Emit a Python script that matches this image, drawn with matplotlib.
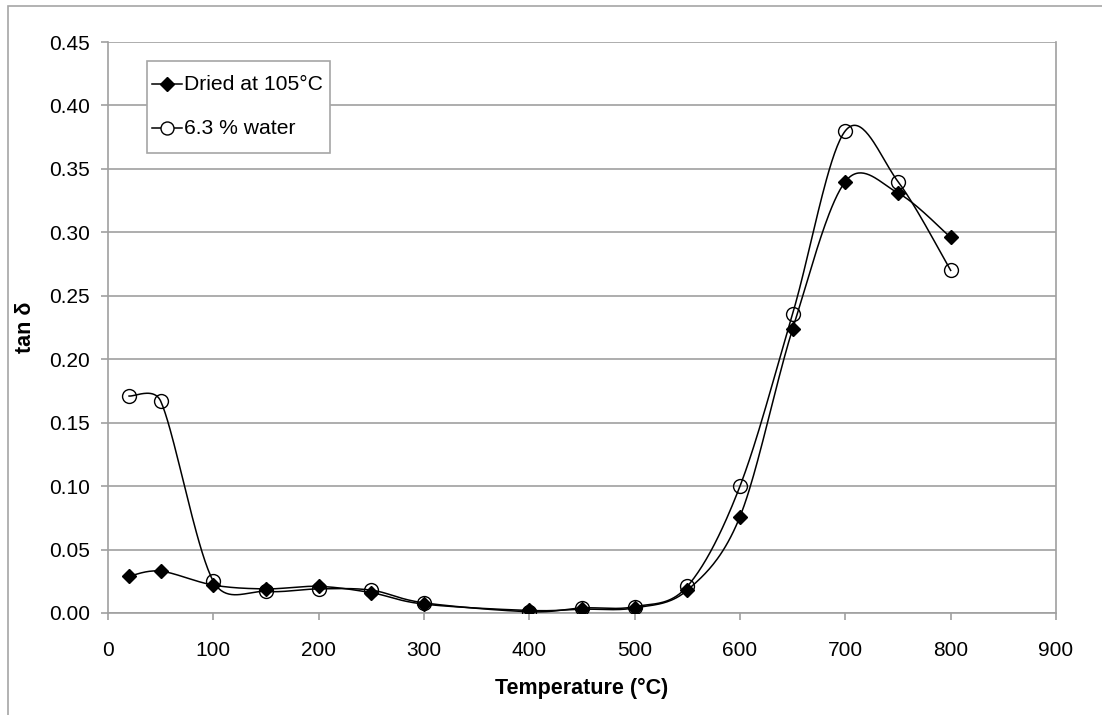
import numpy as np
import matplotlib
matplotlib.use('Agg')
import matplotlib.pyplot as plt
from matplotlib.patches import Rectangle

temp = [20, 50, 100, 150, 200, 250, 300, 400, 450, 500, 550, 600, 650, 700, 750, 800]
dried = [0.029, 0.033, 0.022, 0.019, 0.021, 0.016, 0.007, 0.002, 0.003, 0.004,
         0.018, 0.076, 0.224, 0.340, 0.331, 0.296]
water = [0.171, 0.167, 0.025, 0.017, 0.019, 0.018, 0.008, 0.001, 0.004, 0.005,
         0.021, 0.100, 0.236, 0.380, 0.340, 0.270]

# pixel scale of the plot area, so the smoothing behaves like on screen
XS = 948 / 900.0
YS = 571 / 0.45


def smooth(x, y, n=40):
    # Excel-style smoothed line: Bezier segments, tangent 1/6, clipped on short segments
    p = np.column_stack([np.asarray(x, float) * XS, np.asarray(y, float) * YS])
    m = len(p)
    t = np.linspace(0, 1, n)
    out = []
    for i in range(m - 1):
        p0 = p[max(i - 1, 0)]
        p1, p2 = p[i], p[i + 1]
        p3 = p[min(i + 2, m - 1)]
        d12 = np.hypot(*(p2 - p1))
        d02 = np.hypot(*(p2 - p0))
        d13 = np.hypot(*(p3 - p1))
        f0 = 1 / 6.0 if d02 / 6 < d12 / 2 else d12 / d02 / 2
        f3 = 1 / 6.0 if d13 / 6 < d12 / 2 else d12 / d13 / 2
        c1 = p1 + (p2 - p0) * f0
        c2 = p2 - (p3 - p1) * f3
        seg = ((1 - t) ** 3)[:, None] * p1 + (3 * (1 - t) ** 2 * t)[:, None] * c1 \
            + (3 * (1 - t) * t ** 2)[:, None] * c2 + (t ** 3)[:, None] * p2
        out.append(seg)
    out = np.vstack(out)
    return out[:, 0] / XS, out[:, 1] / YS


plt.rcParams['font.family'] = ['Liberation Sans', 'DejaVu Sans']
plt.rcParams['font.size'] = 15

fig = plt.figure(figsize=(11.02, 7.15), dpi=100)
ax = fig.add_axes([108 / 1102, 1 - 613 / 715, (1056 - 108) / 1102, (613 - 42) / 715])

# outer chart frame
fig.patches.append(Rectangle((8 / 1102, -0.1), 1.2, 1 - 6 / 715 + 0.1,
                             transform=fig.transFigure, fill=False,
                             edgecolor='#a6a6a6', lw=1.2))

grid = '#a0a0a0'
sx, sy = smooth(temp, dried)
ax.plot(sx, sy, color='black', lw=1.1, zorder=3)
sx, sy = smooth(temp, water)
ax.plot(sx, sy, color='black', lw=1.1, zorder=3)
ax.plot(temp, dried, ls='none', marker='D', ms=7.5, color='black', zorder=4)
ax.plot(temp, water, ls='none', marker='o', ms=10, mfc='none', mec='black',
        mew=1.0, zorder=5)

ax.set_xlim(0, 900)
ax.set_ylim(0, 0.45)
ax.set_xticks(np.arange(0, 901, 100))
ax.set_yticks(np.arange(0, 0.451, 0.05))
ax.set_yticklabels(['%.2f' % v for v in np.arange(0, 0.451, 0.05)])
ax.yaxis.grid(True, color=grid, lw=1.2)
ax.set_axisbelow(True)
for s in ax.spines.values():
    s.set_color(grid)
    s.set_linewidth(1.2)
ax.spines['top'].set_visible(False)
ax.tick_params(axis='both', color=grid, length=5, width=1.2, labelsize=15)
ax.tick_params(axis='x', pad=15)
ax.tick_params(axis='y', pad=8)

ax.set_xlabel('Temperature (°C)', fontweight='bold', fontsize=15.5, labelpad=13)
ax.set_ylabel('tan δ', fontweight='bold', fontsize=15.5, labelpad=8)
ax.yaxis.set_label_coords(-72 / 948, 0.5)

# legend
lx0, ly0 = 147 / 1102, 1 - 153 / 715
fig.patches.append(Rectangle((lx0, ly0), (330 - 147) / 1102, (153 - 61) / 715,
                             transform=fig.transFigure, facecolor='white',
                             edgecolor='#a6a6a6', lw=1.2, zorder=10))
items = [('Dried at 105°C', 'D', 'black', 8.5, 84), ('6.3 % water', 'o', 'white', 11, 128)]
for label, mk, fc, ms, ypx in items:
    yy = 1 - ypx / 715
    fig.add_artist(plt.Line2D([152 / 1102, 182 / 1102], [yy, yy], color='black',
                              lw=1.1, transform=fig.transFigure, zorder=11))
    fig.add_artist(plt.Line2D([167 / 1102], [yy], marker=mk, ms=ms * 0.85, mfc=fc,
                              mec='black', color='black', transform=fig.transFigure,
                              zorder=12))
    fig.text(184 / 1102, yy, label, fontsize=15.2, va='center', ha='left', zorder=12)

fig.savefig('out.png', dpi=100)
